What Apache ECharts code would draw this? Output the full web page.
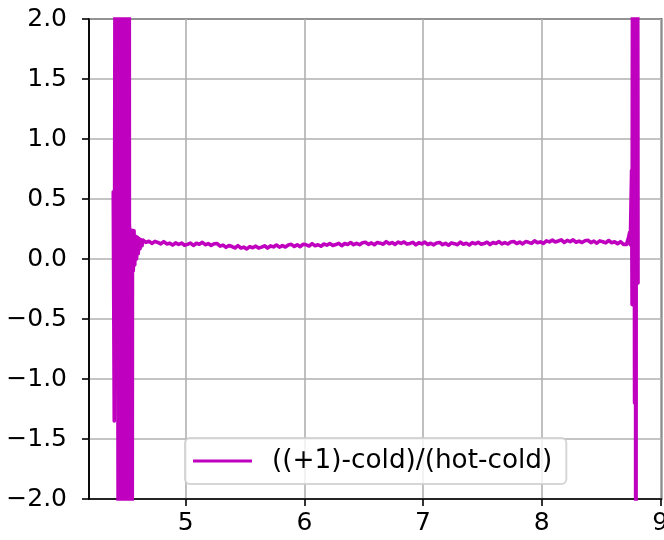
<!DOCTYPE html>
<html>
<head>
<meta charset="utf-8">
<script src="https://cdn.jsdelivr.net/npm/echarts@6/dist/echarts.min.js"></script>
<style>html,body{margin:0;padding:0;background:#fff;}#chart{width:664px;height:540px;}</style>
</head>
<body>
<div id="chart"></div>
<script>
const seriesName = '((+1)-cold)/(hot-cold)';
const xTicks = [5, 6, 7, 8, 9];
const xRange = [4.185, 9.01];
const yRange = [-2, 2];

const leftSpike = [
  [4.3895, 0.56], [4.3979, -1.35], [4.4147, 9], [4.4400, -9], [4.4459, 9],
  [4.4611, -9], [4.4737, 9], [4.4905, -9], [4.5032, 9], [4.5158, -9],
  [4.5225, 9], [4.5251, 0.30], [4.5436, -0.10], [4.5453, -9], [4.5512, 0.24],
  [4.5579, -0.10], [4.5646, 0.235], [4.5705, -0.05], [4.5789, 0.19], [4.5857, 0.0],
  [4.5933, 0.18], [4.6000, 0.045], [4.6067, 0.17], [4.6152, 0.085], [4.6236, 0.16],
  [4.6320, 0.11]
];

const plateau = [
  [4.640,0.158],[4.665,0.138],[4.690,0.148],[4.715,0.130],[4.740,0.147],[4.765,0.138],
  [4.790,0.126],[4.815,0.145],[4.840,0.126],[4.865,0.132],[4.890,0.116],[4.915,0.134],
  [4.940,0.122],[4.965,0.133],[4.990,0.115],[5.015,0.122],[5.040,0.133],[5.065,0.113],
  [5.090,0.131],[5.115,0.123],[5.140,0.139],[5.165,0.119],[5.190,0.128],[5.215,0.114],
  [5.240,0.127],[5.265,0.128],[5.290,0.107],[5.315,0.116],[5.340,0.097],[5.365,0.113],
  [5.390,0.104],[5.415,0.092],[5.440,0.111],[5.465,0.092],[5.490,0.099],[5.515,0.084],
  [5.540,0.103],[5.565,0.094],[5.590,0.107],[5.615,0.091],[5.640,0.099],[5.665,0.110],
  [5.690,0.091],[5.715,0.109],[5.740,0.101],[5.765,0.117],[5.790,0.099],[5.815,0.111],
  [5.840,0.100],[5.865,0.117],[5.890,0.122],[5.915,0.105],[5.940,0.118],[5.965,0.103],
  [5.990,0.123],[6.015,0.118],[6.040,0.108],[6.065,0.128],[6.090,0.111],[6.115,0.119],
  [6.140,0.106],[6.165,0.125],[6.190,0.116],[6.215,0.129],[6.240,0.113],[6.265,0.120],
  [6.290,0.131],[6.315,0.111],[6.340,0.129],[6.365,0.121],[6.390,0.137],[6.415,0.119],
  [6.440,0.130],[6.465,0.119],[6.490,0.136],[6.515,0.140],[6.540,0.122],[6.565,0.134],
  [6.590,0.119],[6.615,0.138],[6.640,0.132],[6.665,0.123],[6.690,0.144],[6.715,0.127],
  [6.740,0.136],[6.765,0.122],[6.790,0.141],[6.815,0.130],[6.840,0.142],[6.865,0.124],
  [6.890,0.130],[6.915,0.139],[6.940,0.118],[6.965,0.135],[6.990,0.126],[7.015,0.141],
  [7.040,0.121],[7.065,0.131],[7.090,0.118],[7.115,0.134],[7.140,0.138],[7.165,0.119],
  [7.190,0.131],[7.215,0.115],[7.240,0.134],[7.265,0.128],[7.290,0.119],[7.315,0.140],
  [7.340,0.123],[7.365,0.131],[7.390,0.117],[7.415,0.136],[7.440,0.127],[7.465,0.139],
  [7.490,0.123],[7.515,0.129],[7.540,0.140],[7.565,0.120],[7.590,0.137],[7.615,0.129],
  [7.640,0.145],[7.665,0.126],[7.690,0.137],[7.715,0.125],[7.740,0.142],[7.765,0.146],
  [7.790,0.129],[7.815,0.141],[7.840,0.126],[7.865,0.145],[7.890,0.139],[7.915,0.130],
  [7.940,0.151],[7.965,0.135],[7.990,0.143],[8.015,0.130],[8.040,0.151],[8.065,0.143],
  [8.090,0.157],[8.115,0.142],[8.140,0.150],[8.165,0.160],[8.190,0.138],[8.215,0.155],
  [8.240,0.145],[8.265,0.159],[8.290,0.140],[8.315,0.149],[8.340,0.137],[8.365,0.152],
  [8.390,0.156],[8.415,0.137],[8.440,0.149],[8.465,0.132],[8.490,0.151],[8.515,0.144],
  [8.540,0.134],[8.565,0.154],[8.590,0.136],[8.615,0.143],[8.640,0.128],[8.665,0.144],
  [8.690,0.122],[8.715,0.122]
];

const rightSpike = [
  [8.722, 0.13], [8.733, 0.18], [8.741, 0.22], [8.747, 0.12], [8.758, 0.74],
  [8.762, -0.38], [8.773, 9], [8.783, -1.2], [8.789, 9], [8.794, -9],
  [8.799, 9], [8.811, 1.35], [8.812, -0.2]
];

const FONT = 'DejaVu Sans';
const data = leftSpike.concat(plateau, rightSpike);

const chart = echarts.init(document.getElementById('chart'), null, {renderer: 'canvas'});
chart.setOption({
  animation: false,
  backgroundColor: '#ffffff',
  grid: {
    left: 89, right: 2.5, top: 19, bottom: 41,
    containLabel: false,
    outerBoundsMode: 'none',
    show: true, borderColor: '#000000', borderWidth: 1.6, backgroundColor: 'transparent'
  },
  xAxis: {
    type: 'value',
    min: xRange[0], max: xRange[1],
    axisLine: {show: true, onZero: false, lineStyle: {color: '#000', width: 1.6}},
    axisTick: {show: true, inside: false, length: 7, lineStyle: {color: '#000', width: 1.6}, customValues: xTicks},
    axisLabel: {show: true, customValues: xTicks, fontSize: 25, fontFamily: FONT, color: '#000', margin: 12,
      hideOverlap: false, formatter: v => String(v)},
    splitLine: {show: true, lineStyle: {color: '#b0b0b0', width: 1.6}}
  },
  yAxis: {
    type: 'value',
    min: yRange[0], max: yRange[1], interval: 0.5,
    axisLine: {show: true, onZero: false, lineStyle: {color: '#000', width: 1.6}},
    axisTick: {show: true, inside: false, length: 7, lineStyle: {color: '#000', width: 1.6}},
    axisLabel: {fontSize: 25, fontFamily: FONT, color: '#000', margin: 22,
      formatter: v => v.toFixed(1).replace('-', '\u2212')},
    splitLine: {show: true, lineStyle: {color: '#b0b0b0', width: 1.6}}
  },
  legend: {
    show: true,
    left: 185, top: 438,
    orient: 'horizontal',
    icon: 'rect',
    itemWidth: 59, itemHeight: 3,
    padding: [10, 14, 10, 8],
    backgroundColor: 'rgba(255,255,255,0.8)',
    borderColor: 'rgba(204,204,204,0.8)',
    borderWidth: 2,
    borderRadius: 5,
    textStyle: {fontSize: 26.3, fontFamily: FONT, color: '#000', padding: [0, 0, 0, 15]},
    data: [seriesName]
  },
  series: [{
    name: seriesName,
    type: 'line',
    data: data,
    showSymbol: false,
    symbol: 'none',
    clip: true,
    color: '#bf00bf',
    lineStyle: {color: '#bf00bf', width: 3.6, cap: 'round', join: 'round'},
    z: 3
  }]
});
</script>
</body>
</html>
